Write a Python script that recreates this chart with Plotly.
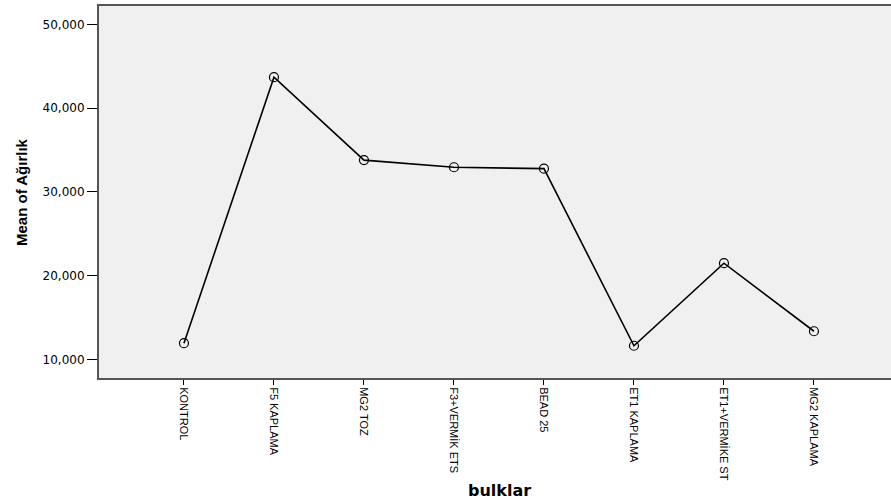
import plotly.graph_objects as go

categories = ["KONTROL", "F5 KAPLAMA", "MG2 TOZ", "F3+VERMİK ETS", "BEAD 25",
              "ET1 KAPLAMA", "ET1+VERMİKE ST", "MG2 KAPLAMA"]
mean_values = [11950, 43700, 33800, 32950, 32780, 11650, 21500, 13380]
y_tick_values = [10000, 20000, 30000, 40000, 50000]
y_tick_labels = ["10,000", "20,000", "30,000", "40,000", "50,000"]

x_idx = list(range(len(categories)))

fig = go.Figure()
fig.add_trace(go.Scatter(
    x=x_idx, y=mean_values, mode="lines+markers",
    line=dict(color="black", width=1.6),
    marker=dict(symbol="circle-open", size=9, color="black", line=dict(width=1.2)),
    showlegend=False, hoverinfo="skip",
))

L, T, W, H = 99, 6, 792, 372

fig.update_layout(
    width=891, height=501,
    margin=dict(l=L, r=0, t=T, b=501 - T - H, autoexpand=False),
    paper_bgcolor="white",
    plot_bgcolor="#f0f0f0",
    font=dict(family="Liberation Sans, Arial, sans-serif", color="black"),
    annotations=[
        dict(text="<b>bulklar</b>", xref="paper", yref="paper",
             x=(499 - L) / W, y=-(490 - (T + H)) / H, xanchor="center", yanchor="middle",
             showarrow=False, font=dict(family="DejaVu Sans, sans-serif", size=16, color="black")),
        dict(text="<b>Mean of Ağırlık</b>", xref="paper", yref="paper",
             x=(21 - L) / W, y=0.5, xanchor="center", yanchor="middle", textangle=-90,
             showarrow=False, font=dict(family="Liberation Sans, Arial", size=15, color="black")),
    ],
)
fig.update_xaxes(
    range=[-0.944, 7.856], automargin=False,
    tickmode="array", tickvals=x_idx, ticktext=categories,
    tickangle=90, tickfont=dict(family="Liberation Sans, Arial", size=11, color="black"),
    ticks="outside", ticklen=5, tickcolor="black", tickwidth=1,
    showgrid=False, zeroline=False,
    showline=True, linecolor="#555555", linewidth=2, mirror=True,
)
fig.update_yaxes(
    range=[7800, 52190], automargin=False,
    tickmode="array", tickvals=y_tick_values, ticktext=y_tick_labels,
    tickfont=dict(family="DejaVu Sans, sans-serif", size=12, color="black"),
    ticks="outside", ticklen=10, tickcolor="black", tickwidth=1,
    showgrid=False, zeroline=False,
    showline=True, linecolor="#555555", linewidth=2,
)

fig.write_html("out.html", config={"displayModeBar": False},
               post_script="document.body.style.margin='0';document.body.style.padding='0';")
